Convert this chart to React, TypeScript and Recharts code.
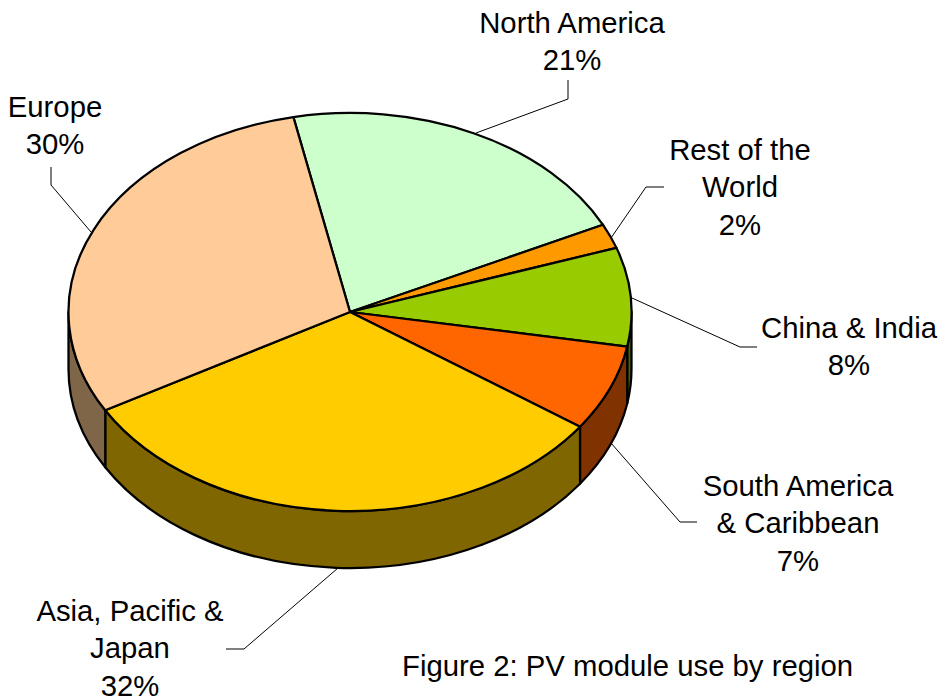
import React from "react";
import { Pie, PieChart } from "recharts";

const regions = ["North America", "Rest of the World", "China & India", "South America & Caribbean", "Asia, Pacific & Japan", "Europe"];
const shares = [21, 2, 8, 7, 32, 30];
const topColors = ["#CCFFCC", "#FF9900", "#99CC00", "#FF6600", "#FFCC00", "#FFCC99"];
const wallColors = ["#668066", "#804D00", "#4D6600", "#803300", "#806600", "#806649"];
const caption = "Figure 2: PV module use by region";

const data = regions.map((name, i) => ({ name, value: shares[i] }));

const W = 938;
const H = 700;
const CX = 350;
const CY = 312;
const RX = 281.5;
const SQUASH = 199 / 281.5; // tilt of the disc
const DEPTH = 57;
const FONT = "Liberation Sans, Arial, sans-serif";
const FONT_SIZE = 29.3;

// text placement and leader lines per slice
const labelLayout = [
  { lines: ["North America"], x: 572, y: 33, leader: "M476 133 L568 99 L568 80" },
  { lines: ["Rest of the", "World"], x: 740, y: 160, leader: "M611 238 L646 187 L664 187" },
  { lines: ["China & India"], x: 849, y: 338, leader: "M632 298 L740 347 L757 347" },
  { lines: ["South America", "& Caribbean"], x: 798, y: 496, leader: "M611 443 L680 522 L697 522" },
  { lines: ["Asia, Pacific &", "Japan"], x: 130, y: 621, leader: "M338 568 L244 649 L226 649" },
  { lines: ["Europe"], x: 55, y: 117, leader: "M91 232 L51 185 L51 167" },
];

const pt = (cx: number, cy: number, r: number, deg: number) => {
  const a = (deg * Math.PI) / 180;
  return [cx + r * Math.cos(a), cy - r * SQUASH * Math.sin(a)];
};

const TopSlice = (props: any) => {
  const { cx, cy, outerRadius: r, startAngle, endAngle, index } = props;
  const [x0, y0] = pt(cx, cy, r, startAngle);
  const [x1, y1] = pt(cx, cy, r, endAngle);
  const large = Math.abs(startAngle - endAngle) > 180 ? 1 : 0;
  return (
    <path
      d={`M${cx} ${cy} L${x0} ${y0} A${r} ${r * SQUASH} 0 ${large} 1 ${x1} ${y1} Z`}
      fill={topColors[index]}
      stroke="#000"
      strokeWidth={2.25}
      strokeLinejoin="round"
    />
  );
};

const WallSlice = (props: any) => {
  const { cx, cy, outerRadius: r, startAngle, endAngle, index } = props;
  const norm = startAngle > 180 ? -360 : 0;
  // only the front half of the rim can be seen
  const a = Math.min(startAngle + norm, 0);
  const b = Math.max(endAngle + norm, -180);
  if (a <= b) return null;
  const [x0, y0] = pt(cx, cy, r, a);
  const [x1, y1] = pt(cx, cy, r, b);
  const ry = r * SQUASH;
  return (
    <path
      d={`M${x0} ${y0} A${r} ${ry} 0 0 1 ${x1} ${y1} L${x1} ${y1 + DEPTH} A${r} ${ry} 0 0 0 ${x0} ${y0 + DEPTH} Z`}
      fill={wallColors[index]}
      stroke="#000"
      strokeWidth={2.25}
      strokeLinejoin="round"
    />
  );
};

const SliceLabel = (props: any) => {
  const { index, value } = props;
  const l = labelLayout[index];
  const rows = [...l.lines, `${value}%`];
  return (
    <g>
      <path d={l.leader} fill="none" stroke="#000" strokeWidth={1} />
      <text x={l.x} textAnchor="middle" fontFamily={FONT} fontSize={FONT_SIZE} fill="#000">
        {rows.map((row, i) => (
          <tspan key={i} x={l.x} y={l.y + i * 37.4}>
            {row}
          </tspan>
        ))}
      </text>
    </g>
  );
};

export default function App() {
  return (
    <div style={{ position: "absolute", left: 0, top: 0, width: W, height: H, background: "#fff" }}>
      <PieChart width={W} height={H} margin={{ top: 0, right: 0, bottom: 0, left: 0 }}>
        <Pie
          data={data}
          dataKey="value"
          nameKey="name"
          cx={CX}
          cy={CY}
          outerRadius={RX}
          startAngle={101.6}
          endAngle={-258.4}
          paddingAngle={0}
          shape={WallSlice}
          label={false}
          labelLine={false}
          isAnimationActive={false}
        />
        <Pie
          data={data}
          dataKey="value"
          nameKey="name"
          cx={CX}
          cy={CY}
          outerRadius={RX}
          startAngle={101.6}
          endAngle={-258.4}
          paddingAngle={0}
          shape={TopSlice}
          label={SliceLabel}
          labelLine={false}
          isAnimationActive={false}
        />
        <text x={402} y={676} fontFamily={FONT} fontSize={FONT_SIZE} fill="#000">
          {caption}
        </text>
      </PieChart>
    </div>
  );
}
